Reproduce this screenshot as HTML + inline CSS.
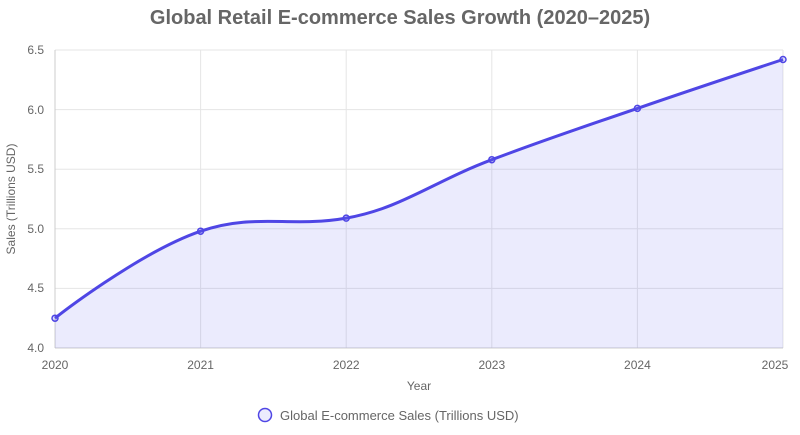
<!DOCTYPE html>
<html><head><meta charset="utf-8"><style>
html,body{margin:0;padding:0;background:#fff;}
svg{display:block;font-family:"Liberation Sans",Arial,sans-serif;}
</style></head><body>
<svg width="800" height="435" viewBox="0 0 800 435">
<text x="400" y="24" text-anchor="middle" font-size="20" font-weight="bold" fill="#666">Global Retail E-commerce Sales Growth (2020–2025)</text>
<g stroke="#e5e5e5" stroke-width="1">
<line x1="55" y1="50" x2="783" y2="50"/><line x1="55" y1="109.6" x2="783" y2="109.6"/>
<line x1="55" y1="169.2" x2="783" y2="169.2"/><line x1="55" y1="228.8" x2="783" y2="228.8"/>
<line x1="55" y1="288.4" x2="783" y2="288.4"/>
<line x1="200.6" y1="50" x2="200.6" y2="348"/><line x1="346.2" y1="50" x2="346.2" y2="348"/>
<line x1="491.8" y1="50" x2="491.8" y2="348"/><line x1="637.4" y1="50" x2="637.4" y2="348"/>
<line x1="783" y1="50" x2="783" y2="348"/>
</g>
<line x1="55" y1="50" x2="55" y2="348" stroke="#ccc"/>
<line x1="55" y1="348" x2="783" y2="348" stroke="#ccc"/>
<path d="M55,318.2 C55,318.2 138,252.8 200.6,231.2 C254.5,212.6 290,228 346.2,218.1 C400,208.9 433.1,181.8 491.8,159.7 C549.6,137.9 579,128.5 637.4,108.4 C695.5,88.4 783,59.5 783,59.5 L783,348 L55,348 Z" fill="rgba(99,102,241,0.13)"/>
<path d="M55,318.2 C55,318.2 138,252.8 200.6,231.2 C254.5,212.6 290,228 346.2,218.1 C400,208.9 433.1,181.8 491.8,159.7 C549.6,137.9 579,128.5 637.4,108.4 C695.5,88.4 783,59.5 783,59.5" fill="none" stroke="#4f46e5" stroke-width="3"/>
<g fill="rgba(99,102,241,0.2)" stroke="#4f46e5" stroke-width="1.5">
<circle cx="55" cy="318.2" r="3"/><circle cx="200.6" cy="231.2" r="3"/><circle cx="346.2" cy="218.1" r="3"/>
<circle cx="491.8" cy="159.7" r="3"/><circle cx="637.4" cy="108.4" r="3"/><circle cx="783" cy="59.5" r="3"/>
</g>
<g font-size="12" fill="#666" text-anchor="end">
<text x="44" y="54">6.5</text><text x="44" y="114">6.0</text><text x="44" y="173">5.5</text>
<text x="44" y="233">5.0</text><text x="44" y="292">4.5</text><text x="44" y="352">4.0</text>
</g>
<g font-size="12" fill="#666" text-anchor="middle">
<text x="55" y="369">2020</text><text x="200.6" y="369">2021</text><text x="346.2" y="369">2022</text>
<text x="491.8" y="369">2023</text><text x="637.4" y="369">2024</text><text x="775" y="369">2025</text>
<text x="419" y="390">Year</text>
</g>
<text transform="translate(15,199) rotate(-90)" font-size="12" fill="#666" text-anchor="middle">Sales (Trillions USD)</text>
<circle cx="265" cy="415" r="6.5" fill="rgba(99,102,241,0.13)" stroke="#4f46e5" stroke-width="1.5"/>
<text x="280" y="420" font-size="13" fill="#666">Global E-commerce Sales (Trillions USD)</text>
</svg>
</body></html>
